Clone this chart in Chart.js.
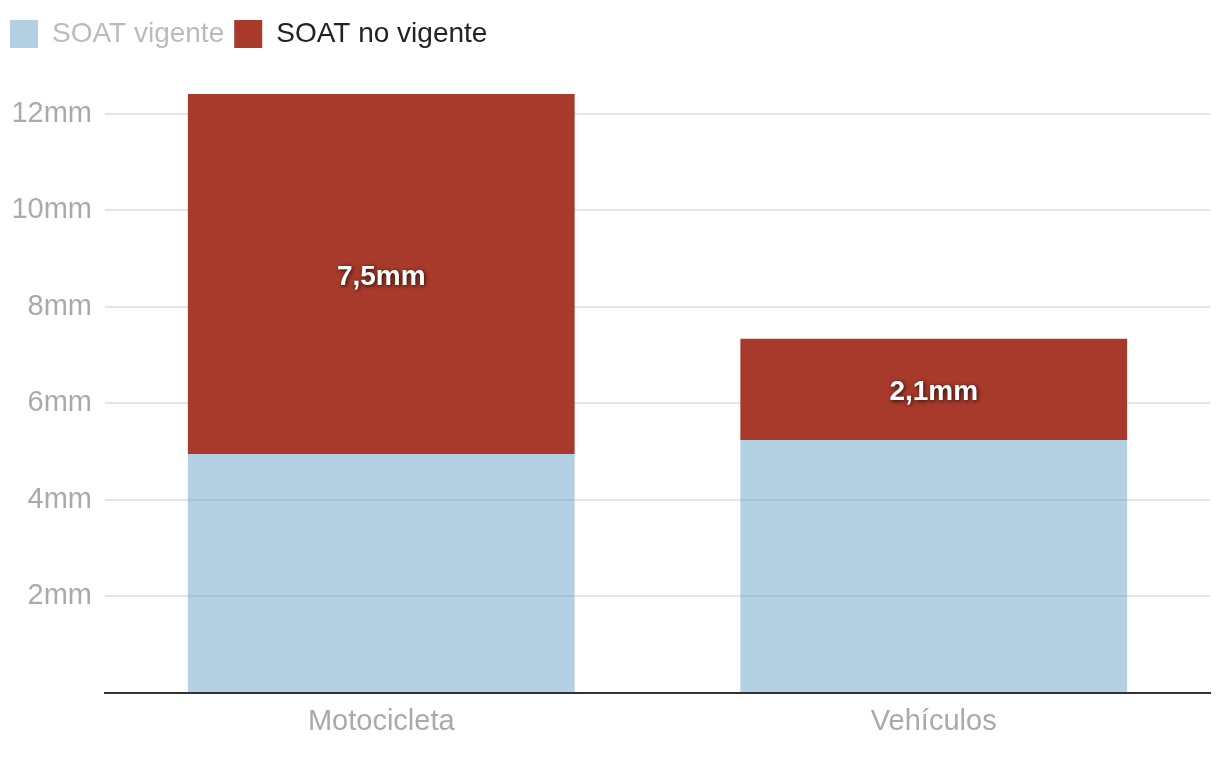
<!DOCTYPE html>
<html>
<head>
<meta charset="utf-8">
<script src="https://cdn.jsdelivr.net/npm/chart.js@4/dist/chart.umd.min.js"></script>
<style>
  html, body { margin: 0; padding: 0; background: #fff; }
  #wrap { width: 1220px; height: 760px; position: relative; }
</style>
</head>
<body>
<div id="wrap"><canvas id="soatChart"></canvas></div>
<script>
// ── Data ─────────────────────────────────────────
const categories = ['Motocicleta', 'Vehículos'];
const vigente = [4.95, 5.24];
const noVigente = [7.46, 2.1];
const noVigenteLabels = ['7,5mm', '2,1mm'];
const seriesNames = ['SOAT vigente', 'SOAT no vigente'];

const FONT = "'Liberation Sans', Arial, sans-serif";
Chart.defaults.font.family = FONT;

// white bold labels centred in the red segments
const segmentLabels = {
  id: 'segmentLabels',
  afterDatasetsDraw(chart) {
    const ctx = chart.ctx;
    const meta = chart.getDatasetMeta(1);
    ctx.save();
    ctx.font = "bold 28px " + FONT;
    ctx.fillStyle = '#ffffff';
    ctx.textAlign = 'center';
    ctx.textBaseline = 'middle';
    ctx.shadowColor = 'rgba(0,0,0,0.8)';
    ctx.shadowBlur = 4;
    ctx.shadowOffsetX = 1;
    ctx.shadowOffsetY = 1;
    meta.data.forEach((bar, i) => {
      const y = (bar.y + bar.base) / 2 + 3;
      ctx.fillText(noVigenteLabels[i], bar.x, y);
    });
    ctx.restore();
  },
};

// extra room under the legend
const legendGap = {
  id: 'legendGap',
  beforeInit(chart) {
    const fit = chart.legend.fit;
    chart.legend.fit = function () {
      fit.bind(chart.legend)();
      this.height += 36;
    };
  },
};

new Chart(document.getElementById('soatChart'), {
  type: 'bar',
  data: {
    labels: categories,
    datasets: [
      {
        label: seriesNames[0],
        data: vigente,
        backgroundColor: 'rgba(103,163,197,0.5)',
        borderWidth: 0,
        categoryPercentage: 1,
        barPercentage: 0.7,
      },
      {
        label: seriesNames[1],
        data: noVigente,
        backgroundColor: '#a83a2b',
        borderWidth: 0,
        categoryPercentage: 1,
        barPercentage: 0.7,
      },
    ],
  },
  options: {
    responsive: true,
    maintainAspectRatio: false,
    animation: false,
    layout: { padding: { left: 0, right: 10, top: 10, bottom: 0 } },
    plugins: {
      legend: {
        position: 'top',
        align: 'start',
        labels: {
          boxWidth: 28,
          boxHeight: 28,
          padding: 10,
          font: { size: 28 },
          generateLabels(chart) {
            return chart.data.datasets.map((ds, i) => ({
              text: ds.label,
              fillStyle: i === 0 ? '#b3d1e2' : ds.backgroundColor,
              strokeStyle: 'transparent',
              lineWidth: 0,
              fontColor: i === 0 ? '#bbbbbb' : '#222222',
              hidden: false,
              datasetIndex: i,
            }));
          },
        },
      },
      tooltip: { enabled: false },
    },
    scales: {
      x: {
        stacked: true,
        grid: { display: false, drawTicks: false },
        border: { color: '#333333', width: 2 },
        ticks: { color: '#aaaaaa', font: { size: 29 }, padding: 12 },
        afterFit: (scale) => { scale.height = 67; },
      },
      y: {
        stacked: true,
        min: 0,
        max: 12.41,
        border: { display: false },
        grid: {
          drawTicks: false,
          lineWidth: 2,
          color: (c) => (c.tick && c.tick.value > 0 ? '#e5e5e5' : 'transparent'),
        },
        ticks: {
          stepSize: 2,
          includeBounds: false,
          color: '#aaaaaa',
          font: { size: 29 },
          padding: 13,
          callback: (v) => (v > 0 ? v + 'mm' : ''),
        },
        afterFit: (scale) => { scale.width = 105; },
      },
    },
  },
  plugins: [legendGap, segmentLabels],
});
</script>
</body>
</html>
